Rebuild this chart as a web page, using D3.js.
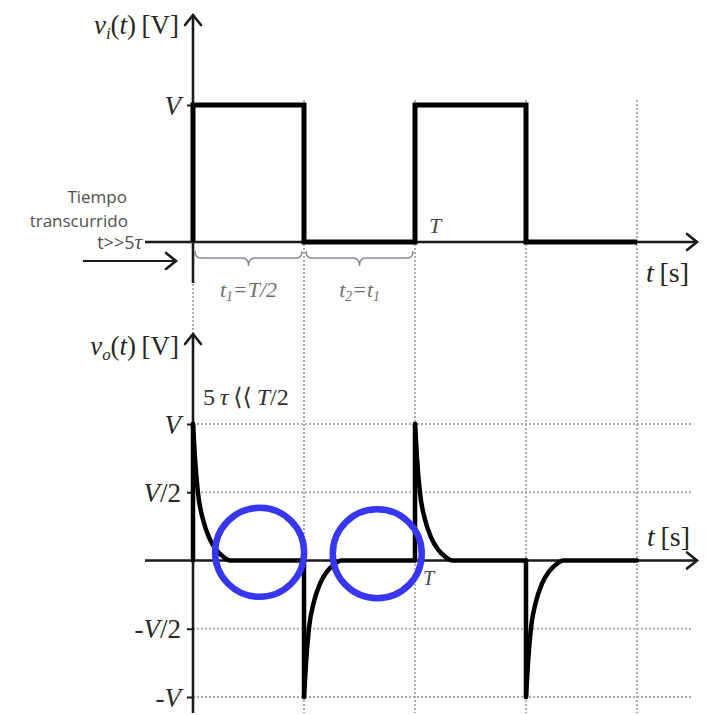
<!DOCTYPE html>
<html>
<head>
<meta charset="utf-8">
<script src="https://cdn.jsdelivr.net/npm/d3@7"></script>
<style>
  html, body { margin: 0; padding: 0; background: #fff; }
  svg { display: block; }
</style>
</head>
<body>
<svg id="chart" width="718" height="715"></svg>
<script>
// ---- data (time in units of the period T, voltages in units of V) ----
const edgeTimes = [0, 0.5, 1, 1.5, 2];
const inputLevels = [1, 0, 1, 0];
const gridTimes = [0, 0.5, 1, 1.5, 2];
const inTicks = [1];
const inTickLabels = ["V"];
const outTicks = [1, 0.5, -0.5, -1];
const outTickLabels = ["V", "V/2", "-V/2", "-V"];
// RC output transient after each edge: time after edge (T) and fraction of V
const decayTimes = [0, 0.009, 0.022, 0.045, 0.072, 0.104, 0.135, 0.167];
const decayValues = [1, 0.75, 0.5, 0.3, 0.17, 0.08, 0.03, 0];
// marked regions on the output (where v_o has settled to zero)
const highlightTimes = [0.30, 0.83];
const highlightValues = [0.06, 0.05];
const braceSpans = [[0, 0.5], [0.5, 1]];

const svg = d3.select("#chart");
const serif = "'Liberation Serif', 'Times New Roman', 'DejaVu Serif', serif";
const sans = "'Open Sans', 'Noto Sans', sans-serif";

const x = d3.scaleLinear().domain([0, 2]).range([193, 637]);
const yIn = d3.scaleLinear().domain([0, 1]).range([242, 105]);
const yOut = d3.scaleLinear().domain([-1, 1]).range([697, 424]);

const axisColor = "#1a1a1a";
const gridColor = "#ababab";

// ---- helpers ----
function chevron(g, tx, ty, dir) {
  const len = 10, half = 8;
  const d = dir === "up"
    ? `M${tx - half},${ty + len} L${tx},${ty} L${tx + half},${ty + len}`
    : `M${tx - len},${ty - half} L${tx},${ty} L${tx - len},${ty + half}`;
  g.append("path").attr("d", d).attr("fill", "none")
    .attr("stroke", axisColor).attr("stroke-width", 2.6)
    .attr("stroke-linecap", "round").attr("stroke-linejoin", "miter");
}

// parts: [text, kind] where kind is "i" (italic), "n" (upright), "sub" (italic subscript)
function richText(g, xPos, yPos, anchor, size, fill, parts) {
  const t = g.append("text").attr("x", xPos).attr("y", yPos)
    .attr("text-anchor", anchor).attr("font-family", serif)
    .attr("font-size", size).attr("fill", fill);
  let shifted = 0;
  parts.forEach(([str, kind]) => {
    const sp = t.append("tspan").text(str);
    if (kind === "sub") {
      sp.attr("font-style", "italic").attr("font-size", size * 0.62)
        .attr("dy", size * 0.2 - shifted);
      shifted = size * 0.2;
    } else {
      sp.attr("font-style", kind === "i" ? "italic" : "normal");
      if (shifted) { sp.attr("dy", -shifted); shifted = 0; }
    }
  });
  return t;
}

// ---- dotted grid ----
const grid = svg.append("g")
  .attr("stroke", gridColor).attr("stroke-width", 2)
  .attr("stroke-dasharray", "2,2");
grid.selectAll("line.v").data(gridTimes).join("line")
  .attr("class", "v")
  .attr("x1", d => x(d)).attr("x2", d => x(d))
  .attr("y1", 100).attr("y2", 713);
grid.selectAll("line.h").data(outTicks).join("line")
  .attr("class", "h")
  .attr("x1", x(0)).attr("x2", 692)
  .attr("y1", d => yOut(d)).attr("y2", d => yOut(d));

// ---- axes ----
const axes = svg.append("g").attr("stroke", axisColor).attr("stroke-width", 2.6);
// input panel
axes.append("line").attr("x1", x(0)).attr("x2", x(0)).attr("y1", 283).attr("y2", 15);
axes.append("line").attr("x1", 145).attr("x2", 697).attr("y1", yIn(0)).attr("y2", yIn(0));
// output panel
axes.append("line").attr("x1", x(0)).attr("x2", x(0)).attr("y1", 713).attr("y2", 334);
axes.append("line").attr("x1", 145).attr("x2", 697).attr("y1", yOut(0)).attr("y2", yOut(0));
// elapsed-time arrow
axes.append("line").attr("x1", 83).attr("x2", 176).attr("y1", 261).attr("y2", 261).attr("stroke-width", 2.2);

chevron(svg, x(0), 15, "up");
chevron(svg, 697, yIn(0), "right");
chevron(svg, x(0), 334, "up");
chevron(svg, 697, yOut(0), "right");
chevron(svg, 176, 261, "right");

// tick marks and labels
function yTicks(scale, vals, labels) {
  const g = svg.append("g").attr("transform", `translate(${x(0)},0)`)
    .call(d3.axisLeft(scale).tickValues(vals).tickSize(6).tickPadding(6)
      .tickFormat((d, i) => labels[i]));
  g.select(".domain").remove();
  g.selectAll(".tick line").attr("stroke", axisColor).attr("stroke-width", 2);
  g.selectAll(".tick text").each(function (d, i) {
    const label = labels[i];
    const el = d3.select(this).text(null)
      .attr("font-family", serif).attr("font-size", 27).attr("fill", "#262626")
      .attr("dy", "0.34em");
    const m = label.match(/^(-?)(V)(.*)$/);
    if (m[1]) el.append("tspan").text(m[1]).attr("font-style", "normal");
    el.append("tspan").text(m[2]).attr("font-style", "italic");
    if (m[3]) el.append("tspan").text(m[3]).attr("font-style", "normal");
  });
}
yTicks(yIn, inTicks, inTickLabels);
yTicks(yOut, outTicks, outTickLabels);

// ---- input square wave v_i(t) ----
const inPts = [{ t: edgeTimes[0], v: 0 }];
inputLevels.forEach((lv, i) => inPts.push({ t: edgeTimes[i], v: lv }));
inPts.push({ t: edgeTimes[edgeTimes.length - 1], v: inputLevels[inputLevels.length - 1] });
svg.append("path")
  .attr("d", d3.line().x(d => x(d.t)).y(d => yIn(d.v)).curve(d3.curveStepAfter)(inPts))
  .attr("fill", "none").attr("stroke", "#000").attr("stroke-width", 5)
  .attr("stroke-linejoin", "miter");

// ---- output v_o(t): a spike at every edge of the input, decaying to zero ----
const outG = svg.append("g").attr("fill", "none").attr("stroke", "#000")
  .attr("stroke-width", 4.5).attr("stroke-linecap", "round");
const decayLine = d3.line().x(d => x(d.t)).y(d => yOut(d.v)).curve(d3.curveMonotoneX);
inputLevels.forEach((lv, i) => {
  const prev = i === 0 ? 0 : inputLevels[i - 1];
  const s = lv - prev;
  const t0 = edgeTimes[i], t1 = edgeTimes[i + 1];
  outG.append("line")
    .attr("x1", x(t0)).attr("x2", x(t0))
    .attr("y1", yOut(0)).attr("y2", yOut(s));
  const pts = decayTimes.map((d, k) => ({ t: t0 + d, v: s * decayValues[k] }));
  pts.push({ t: t1, v: 0 });
  outG.append("path").attr("d", decayLine(pts));
});

// ---- braces for the half periods ----
const braceG = svg.append("g").attr("fill", "none")
  .attr("stroke", "#858b9a").attr("stroke-width", 1.5);
braceSpans.forEach(([a, b]) => {
  const x0 = x(a) + 2, x1 = x(b) - 2, cx = (x0 + x1) / 2;
  const y0 = 251, ym = 258, y1 = 266, r = 6;
  braceG.append("path").attr("d",
    `M${x0},${y0} Q${x0},${ym} ${x0 + r},${ym} L${cx - r},${ym} Q${cx},${ym} ${cx},${y1}` +
    ` Q${cx},${ym} ${cx + r},${ym} L${x1 - r},${ym} Q${x1},${ym} ${x1},${y0}`);
});
const halfLabel = "#6e6e6e";
richText(svg, (x(0) + x(0.5)) / 2, 297, "middle", 22, halfLabel,
  [["t", "i"], ["1", "sub"], ["=T/2", "i"]]);
richText(svg, (x(0.5) + x(1)) / 2, 297, "middle", 22, halfLabel,
  [["t", "i"], ["2", "sub"], ["=t", "i"], ["1", "sub"]]);

// ---- axis titles and annotations ----
const titleColor = "#262626";
richText(svg, 179, 34, "end", 27, titleColor,
  [["v", "i"], ["i", "sub"], ["(", "n"], ["t", "i"], [")\u2009[V]", "n"]]);
richText(svg, 179, 355, "end", 27, titleColor,
  [["v", "i"], ["o", "sub"], ["(", "n"], ["t", "i"], [")\u2009[V]", "n"]]);
richText(svg, 689, 282, "end", 28, titleColor, [["t", "i"], ["\u2009[s]", "n"]]);
richText(svg, 690, 546, "end", 28, titleColor, [["t", "i"], ["\u2009[s]", "n"]]);
richText(svg, x(1) + 14, 233, "start", 22, "#4a4a4a", [["T", "i"]]);
richText(svg, x(1) + 8, 585, "start", 20, "#4a4a4a", [["T", "i"]]);
richText(svg, 203, 405, "start", 24, "#333",
  [["5\u2009", "n"], ["\u03c4", "i"], ["\u2009\u27e8\u27e8\u2009", "n"], ["T", "i"], ["/2", "n"]]);

const note = svg.append("g").attr("font-family", sans).attr("font-size", 17)
  .attr("fill", "#505050").attr("text-anchor", "end");
note.append("text").attr("x", 127).attr("y", 203).text("Tiempo");
note.append("text").attr("x", 128).attr("y", 227).text("transcurrido");
const tt = note.append("text").attr("x", 142).attr("y", 249).attr("font-size", 18);
tt.append("tspan").text("t>>5");
tt.append("tspan").text("\u03c4").attr("font-family", serif).attr("font-style", "italic")
  .attr("font-size", 21);

// ---- highlight circles ----
svg.append("g").selectAll("circle").data(highlightTimes).join("circle")
  .attr("cx", d => x(d)).attr("cy", (d, i) => yOut(highlightValues[i]))
  .attr("r", 44.5).attr("fill", "none")
  .attr("stroke", "#3737f2").attr("stroke-width", 6.5);
</script>
</body>
</html>
